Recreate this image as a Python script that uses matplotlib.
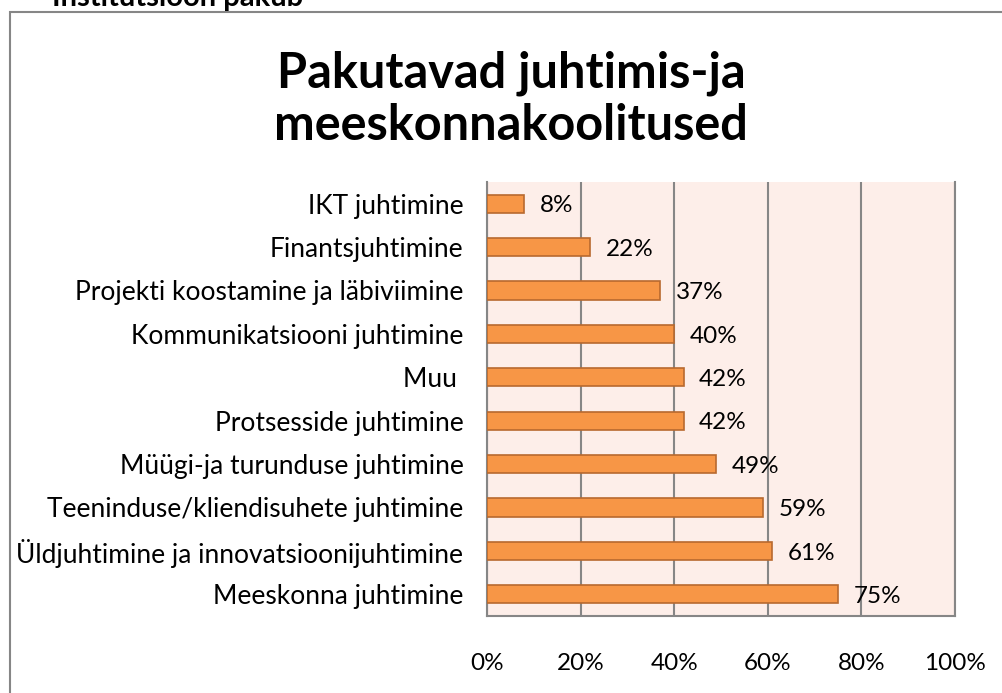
import matplotlib.pyplot as plt
from matplotlib.patches import Rectangle

categories = ['Meeskonna juhtimine',
              'Üldjuhtimine ja innovatsioonijuhtimine',
              'Teeninduse/kliendisuhete juhtimine',
              'Müügi-ja turunduse juhtimine',
              'Protsesside juhtimine',
              'Muu ',
              'Kommunikatsiooni juhtimine',
              'Projekti koostamine ja läbiviimine',
              'Finantsjuhtimine',
              'IKT juhtimine']
values = [75, 61, 59, 49, 42, 42, 40, 37, 22, 8]
ticks = [0, 20, 40, 60, 80, 100]

plt.rcParams['font.family'] = ['Lato', 'DejaVu Sans']

fig = plt.figure(figsize=(10.02, 6.93), dpi=100)
W, H = 1002, 693
ax = fig.add_axes([487 / W, 1 - 616 / H, 468 / W, 434 / H])
ax.set_facecolor('#FDEEE9')

y = range(len(categories))
ax.barh(y, values, height=0.42, color='#F79646', edgecolor='#B8692F', linewidth=1.2, zorder=3)
for i, v in enumerate(values):
    ax.text(v + 3.3, i - 0.05, f'{v}%', va='center', ha='left', fontsize=17.5, zorder=4)

ax.set_xlim(0, 100)
ax.set_ylim(-0.5, len(categories) - 0.5)
ax.set_xticks(ticks)
ax.set_xticklabels([f'{t}%' for t in ticks], fontsize=17.5)
ax.set_yticks(list(y))
ax.set_yticklabels(categories, fontsize=19)
ax.tick_params(length=0, axis='x', pad=27)
ax.tick_params(length=0, axis='y', pad=17)
ax.grid(axis='x', color='#868686', linewidth=1.5, zorder=1)
ax.spines['top'].set_visible(False)
for s in ['left', 'right', 'bottom']:
    ax.spines[s].set_color('#868686')
    ax.spines[s].set_linewidth(1.5)

fig.text(511 / W, 1 - 73 / H, 'Pakutavad juhtimis-ja', ha='center', va='center',
         fontsize=35, fontweight='bold')
fig.text(511 / W, 1 - 125 / H, 'meeskonnakoolitused', ha='center', va='center',
         fontsize=35, fontweight='bold')

fig.text(52 / W, 1 - 6 / H, 'Institutsioon pakub', ha='left', va='baseline',
         fontsize=21, fontweight='bold')

fig.patches.append(Rectangle((10 / W, -0.1), 1.2, 1 - 12 / H + 0.1, transform=fig.transFigure,
                             fill=False, edgecolor='#868686', linewidth=1.5))

fig.savefig('out.png', dpi=100)
